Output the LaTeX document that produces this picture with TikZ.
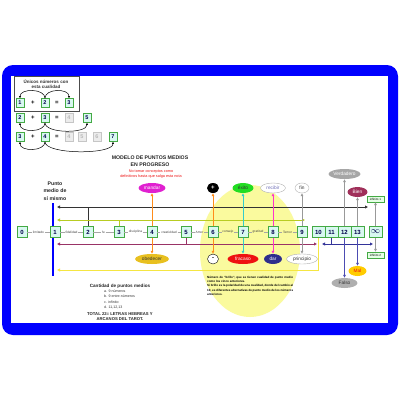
\documentclass[tikz,border=0pt]{standalone}
\usepackage{fontspec}
\setmainfont{Liberation Sans}
\usetikzlibrary{shapes.geometric,arrows.meta}
\newcommand\myfs[2]{\fontsize{#1}{#2}\selectfont}
\definecolor{frameblue}{HTML}{0000FF}
\definecolor{magA}{HTML}{E020D0}
\definecolor{oraA}{HTML}{FF8C1A}
\definecolor{cyA}{HTML}{33CCCC}
\definecolor{pkA}{HTML}{FF33CC}
\definecolor{grA}{HTML}{999999}
\definecolor{ygA}{HTML}{B8CC22}
\definecolor{puA}{HTML}{993366}
\definecolor{nvA}{HTML}{333399}
\definecolor{yeA}{HTML}{F5E642}
\definecolor{goldA}{HTML}{E8C020}
\definecolor{redA}{HTML}{EE1111}
\definecolor{darA}{HTML}{2E2E8C}
\definecolor{bienA}{HTML}{A0305A}
\definecolor{verA}{HTML}{A6A6A6}
\definecolor{malA}{HTML}{FFCC00}
\definecolor{exA}{HTML}{22DD22}
\definecolor{yelA}{HTML}{FAFA9E}
\definecolor{boxfill}{HTML}{D8F8F0}
\definecolor{boxdraw}{HTML}{44AA44}
\begin{document}
\begin{tikzpicture}[x=1pt,y=-1pt,
  numbox/.style={draw=boxdraw, fill=boxfill, line width=0.5pt, minimum width=10pt, minimum height=11pt, inner sep=0pt, font=\myfs{6}{6}\bfseries, text=blue!30!black},
  widebox/.style={numbox, minimum width=13pt},
  smallbox/.style={numbox, minimum width=8pt, minimum height=9pt, font=\myfs{5.5}{5.5}\bfseries},
  graybox/.style={smallbox, draw=gray!45, fill=gray!15, text=gray!55},
  optxt/.style={font=\myfs{6}{6}\bfseries, inner sep=0pt},
  lbl/.style={font=\myfs{3.2}{3.2}, text=black!75, inner sep=0.6pt},
  conn/.style={draw=gray!70, line width=0.3pt},
  ell/.style={ellipse, inner sep=0.2pt, minimum height=10pt, font=\myfs{4.8}{4.8}, line width=0.4pt},
  varr/.style={line width=0.8pt, -{Triangle[length=3pt,width=2.6pt]}},
  harr/.style={line width=0.8pt, {Triangle[length=3pt,width=2.8pt]}-{Triangle[length=3pt,width=2.8pt]}},
  larr/.style={line width=0.8pt, {Triangle[length=3pt,width=2.8pt]}-},
  arcarr/.style={line width=0.5pt, -{Triangle[length=2.2pt,width=2pt]}},
  infbox/.style={draw=boxdraw, fill=green!10, line width=0.4pt, inner sep=0.6pt, minimum width=17pt, minimum height=6pt, font=\myfs{3}{3}}
]
\useasboundingbox (0,0) rectangle (400,400);
% frame
\fill[frameblue, rounded corners=11pt] (2,65) rectangle (398,335);
\fill[white] (11,76) rectangle (388,323);

% yellow background
\fill[yelA] (250,251) ellipse [x radius=50pt, y radius=66pt];

% Unicos box
\draw[gray!60!black, line width=0.6pt] (14,76) rectangle (79,111);
\node[font=\myfs{4.5}{5.5}\bfseries, align=center, text=black!80] (unicos) at (46,84) {Únicos números con\\esta cualidad};

% row 1
\node[smallbox] (r1a) at (20,103) {1};
\node[optxt] (r1p) at (33,103) {+};
\node[smallbox] (r1b) at (45,103) {2};
\node[optxt] (r1e) at (57,103) {=};
\node[smallbox] (r1c) at (69,103) {3};
\draw[arcarr] (r1b.north) .. controls +(0,-10) and +(0,-10) .. (r1a.north);
\draw[arcarr] (r1b.north) .. controls +(0,-10) and +(0,-10) .. (r1c.north);

% row 2
\node[smallbox] (r2a) at (20,118) {2};
\node[optxt] (r2p) at (33,118) {+};
\node[smallbox] (r2b) at (45,118) {3};
\node[optxt] (r2e) at (57,118) {=};
\node[graybox] (r2g) at (69,118) {4};
\node[smallbox] (r2c) at (87,118) {5};
\draw[arcarr] (r2b.south) .. controls +(0,10) and +(0,10) .. (r2a.south);
\draw[arcarr] (r2b.south) .. controls +(0,11) and +(0,11) .. (r2c.south);

% row 3
\node[smallbox] (r3a) at (20,137) {3};
\node[optxt] (r3p) at (33,137) {+};
\node[smallbox] (r3b) at (45,137) {4};
\node[optxt] (r3e) at (57,137) {=};
\node[graybox] (r3g1) at (69,137) {4};
\node[graybox] (r3g2) at (82,137) {5};
\node[graybox] (r3g3) at (97,137) {6};
\node[smallbox] (r3c) at (113,137) {7};
\draw[arcarr] (r3b.south) .. controls +(0,10) and +(0,10) .. (r3a.south);
\draw[arcarr] (r3b.south) .. controls +(0,13) and +(0,13) .. (r3c.south);

% titles
\node[font=\myfs{5.2}{7.5}\bfseries, align=center, text=black!85] (title) at (150,161) {MODELO DE PUNTOS MEDIOS\\EN PROGRESO};
\node[font=\myfs{3.8}{5.6}, align=center, text=redA] (nota) at (151,174) {No tomar conceptos como\\definitivos hasta que salga esta nota};
\node[font=\myfs{5.2}{7.6}\bfseries, align=center, text=black!85] (punto) at (55,191) {Punto\\medio de\\sí mismo};

% blue vertical
\coordinate (bvt) at (53,203);
\coordinate (bvb) at (53,276);
\draw[frameblue, line width=2.2pt] (bvt) -- (bvb);

% horizontal lines coordinates
\coordinate (blL) at (57,207); \coordinate (blR) at (368,207);
\coordinate (ygL) at (57,220); \coordinate (ygR) at (305,220);
\coordinate (puL) at (57,244); \coordinate (puR) at (317,244);
\coordinate (nvL) at (322,244); \coordinate (nvR) at (373,244);
\coordinate (yeL) at (57,270); \coordinate (yeC) at (318.5,270);

% number row
\node[numbox] (b0) at (22,232) {0};
\node[numbox] (b1) at (55,232) {1};
\node[numbox] (b2) at (88,232) {2};
\node[numbox] (b3) at (119,232) {3};
\node[numbox] (b4) at (152,232) {4};
\node[numbox] (b5) at (186,232) {5};
\node[numbox] (b6) at (213,232) {6};
\node[numbox] (b7) at (243,232) {7};
\node[numbox] (b8) at (273,232) {8};
\node[numbox] (b9) at (302,232) {9};
\node[widebox] (b10) at (318.5,232) {10};
\node[widebox] (b11) at (331.5,232) {11};
\node[widebox] (b12) at (344.5,232) {12};
\node[widebox] (b13) at (357.5,232) {13};
\node[widebox] (binf) at (375.5,232) {\myfs{9}{9}$\infty$};

% labels between numbers
\node[lbl] (l01) at (38.5,232) {limitado};
\node[lbl] (l12) at (71.5,232) {fidelidad};
\node[lbl] (l23) at (103.5,232) {fe};
\node[lbl] (l34) at (135.5,232) {disciplina};
\node[lbl] (l45) at (169,232) {creatividad};
\node[lbl] (l56) at (199.5,232) {Amor};
\node[lbl] (l67) at (228,232) {consejo};
\node[lbl] (l78) at (258,232) {gratitud};
\node[lbl] (l89) at (287.5,232) {Temor};
\draw[conn] (b0) -- (l01) -- (b1);
\draw[conn] (b1) -- (l12) -- (b2);
\draw[conn] (b2) -- (l23) -- (b3);
\draw[conn] (b3) -- (l34) -- (b4);
\draw[conn] (b4) -- (l45) -- (b5);
\draw[conn] (b5) -- (l56) -- (b6);
\draw[conn] (b6) -- (l67) -- (b7);
\draw[conn] (b7) -- (l78) -- (b8);
\draw[conn] (b8) -- (l89) -- (b9);

% horizontal lines
\draw[harr, black!80] (blL) -- (blR);
\draw[line width=0.8pt, black!80] (b2.north) -- (b2.north |- blL);
\draw[harr, ygA] (ygL) -- (ygR);
\draw[line width=0.8pt, ygA] (b3.north) -- (b3.north |- ygL);
\draw[harr, puA] (puL) -- (puR);
\draw[line width=0.8pt, puA] (b5.south) -- (b5.south |- puL);
\draw[harr, nvA] (nvL) -- (nvR);
\draw[line width=0.8pt, nvA] (b11.south) -- (b11.south |- nvL);
\draw[larr, yeA] (yeL) -- (yeC) -- (b10.south);

% upper ellipses
\node[ell, fill=magA, text=white, minimum width=27pt] (mandar) at (152,188) {mandar};
\node[ell, fill=black, text=white, minimum width=12pt, font=\myfs{6}{6}\bfseries] (mas) at (213,188) {+};
\node[ell, fill=exA, text=black!80, minimum width=21pt] (exito) at (243,188) {éxito};
\node[ell, fill=white, draw=gray!60, text=nvA!70, minimum width=25pt] (recibir) at (273,188) {recibir};
\node[ell, fill=white, draw=gray!60, text=black!80, minimum width=14pt] (fin) at (302,188) {fin};
\node[ell, fill=verA, text=white, minimum width=32pt] (verdadero) at (344.5,174) {Verdadero};
\node[ell, fill=bienA, text=white, minimum width=20pt] (bien) at (357.5,192) {Bien};
\node[infbox] (inf1) at (375.5,199) {infinito 1};

% lower ellipses
\node[ell, fill=goldA, text=black!80, minimum width=34pt] (obedecer) at (152,259) {obedecer};
\node[ell, fill=white, draw=black, text=black, minimum width=11pt, font=\myfs{6}{6}\bfseries] (menos) at (213,259) {-};
\node[ell, fill=redA, text=white, minimum width=31pt] (fracaso) at (243,259) {fracaso};
\node[ell, fill=darA, text=white, minimum width=18pt] (dar) at (273,259) {dar};
\node[ell, fill=white, draw=gray!60, text=black!80, minimum width=31pt] (principio) at (302,259) {principio};
\node[ell, fill=malA, text=redA, minimum width=18pt] (mal) at (357.5,271) {Mal};
\node[ell, fill=verA!90, text=black!80, minimum width=26pt] (falso) at (344.5,283) {Falso};
\node[infbox] (inf2) at (375.5,255) {infinito 2};

% vertical arrows
\draw[varr, oraA] (b4) -- (mandar);
\draw[varr, oraA] (b4) -- (obedecer);
\draw[varr, oraA] (b6) -- (mas);
\draw[varr, oraA] (b6) -- (menos);
\draw[varr, cyA] (b7) -- (exito);
\draw[varr, cyA] (b7) -- (fracaso);
\draw[varr, pkA] (b8) -- (recibir);
\draw[varr, pkA] (b8) -- (dar);
\draw[varr, grA] (b9) -- (fin);
\draw[varr, grA] (b9) -- (principio);
\draw[varr, grA] (b12) -- (verdadero);
\draw[varr, gray!60!blue] (b12) -- (falso);
\draw[varr, grA] (b13) -- (bien);
\draw[varr, gray!60!blue] (b13) -- (mal);
\draw[varr, grA] (binf) -- (inf1);
\draw[varr, grA] (binf) -- (inf2);

% yellow text
\node[anchor=north west, text width=86pt, align=justify, font=\myfs{3}{4.2}\bfseries, inner sep=0pt] (brillo) at (207,276) {Número de "brillo", que se tienen cualidad de punto medio como los cinco anteriores.\\Si brillo es la polaridad de una cualidad, donde del cambio al 10, es diferentes alternativas de punto medio de los números anteriores.};

% cantidad
\node[font=\myfs{4.6}{5}\bfseries, text=black!85] (cant) at (120,286) {Cantidad de puntos medios};
\node[anchor=north west, font=\myfs{3.6}{5.4}, align=left, inner sep=0pt, text=black!80] (lista) at (104,289.5) {a. 9 números\\b. 9 entre-números\\c. infinito\\d. 11,12,13};
\node[font=\myfs{4.2}{5.4}\bfseries, align=center, text=black!85] (total) at (120,316.5) {TOTAL 22= LETRAS HEBREAS Y\\ARCANOS DEL TAROT.};
\end{tikzpicture}
\end{document}
